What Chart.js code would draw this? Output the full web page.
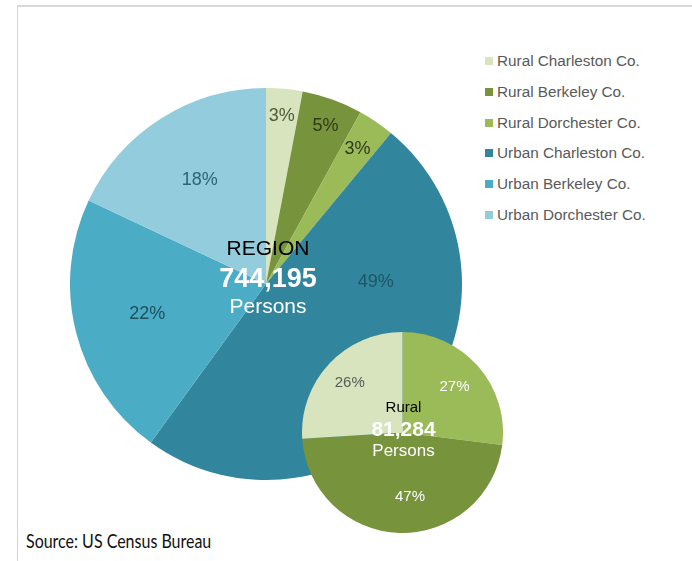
<!DOCTYPE html>
<html>
<head>
<meta charset="utf-8">
<script src="https://cdn.jsdelivr.net/npm/chart.js@4"></script>
<style>
    html, body { margin: 0; padding: 0; background: #fff; }
    body { width: 692px; height: 561px; position: relative; overflow: hidden; font-family: "Liberation Sans", Arial, sans-serif; }
    #frame { position: absolute; left: 17px; top: 5px; right: -5px; bottom: -5px; border-top: 2px solid #d9d9d9; border-left: 1px solid #d4d4d4; }
    #bigWrap { position: absolute; left: 70px; top: 88px; width: 392px; height: 392px; }
    #smallWrap { position: absolute; left: 302px; top: 332px; width: 201px; height: 201px; }
    #legend { position: absolute; left: 485px; top: 46px; }
    .leg-row { height: 30.7px; display: flex; align-items: center; font-size: 15.3px; color: #595959; white-space: nowrap; }
    .leg-box { width: 8px; height: 8px; margin-right: 4px; }
    #source { position: absolute; left: 26px; top: 529px; font-size: 19.5px; color: #111; font-family: "Lato", "DejaVu Sans", sans-serif;
              transform: scaleX(0.82); transform-origin: left top; white-space: nowrap; }
</style>
</head>
<body>
<div id="frame"></div>
<div id="bigWrap"><canvas id="regionPie"></canvas></div>
<div id="smallWrap"><canvas id="ruralPie"></canvas></div>
<div id="legend"></div>
<div id="source">Source: US Census Bureau</div>

<script>
// Region pie (share of persons, %)
const regionLabels = ['Rural Charleston Co.', 'Rural Berkeley Co.', 'Rural Dorchester Co.',
    'Urban Charleston Co.', 'Urban Berkeley Co.', 'Urban Dorchester Co.'];
const regionValues = [3, 5, 3, 49, 22, 18];
const regionColors = ['#d7e4bd', '#77933c', '#9bbb59', '#31859c', '#4bacc6', '#93cddd'];
const regionLabelColors = ['#4f5a3a', '#2f3a1a', '#2f3a1a', '#1d5566', '#1f4f5e', '#2a6478'];

// Rural pie (share of rural persons, %)
const ruralLabels = ['Rural Dorchester Co.', 'Rural Berkeley Co.', 'Rural Charleston Co.'];
const ruralValues = [27, 47, 26];
const ruralColors = ['#9bbb59', '#77933c', '#d7e4bd'];
const ruralLabelColors = ['#ffffff', '#ffffff', '#595959'];

const regionCenter = ['REGION', '744,195', 'Persons'];
const ruralCenter = ['Rural', '81,284', 'Persons'];

// percent labels on each slice
// along = where in the slice's angle span the label sits, radius = fraction of outer radius
const sliceLabels = {
    id: 'sliceLabels',
    afterDatasetsDraw(chart, args, opts) {
        const ctx = chart.ctx;
        const meta = chart.getDatasetMeta(0);
        const data = chart.data.datasets[0].data;
        ctx.save();
        ctx.textAlign = 'center';
        ctx.textBaseline = 'middle';
        ctx.font = opts.size + 'px "Liberation Sans", Arial, sans-serif';
        meta.data.forEach((arc, i) => {
            const t = opts.along ? opts.along[i] : 0.5;
            const ang = arc.startAngle + (arc.endAngle - arc.startAngle) * t;
            const r = arc.outerRadius * opts.radius[i];
            ctx.fillStyle = opts.colors[i];
            ctx.fillText(data[i] + '%', arc.x + Math.cos(ang) * r, arc.y + Math.sin(ang) * r);
        });
        ctx.restore();
    }
};

// three lines of text in the middle
const centerText = {
    id: 'centerText',
    afterDatasetsDraw(chart, args, opts) {
        const ctx = chart.ctx;
        const arc = chart.getDatasetMeta(0).data[0];
        const x = arc.x + opts.dx, y = arc.y;
        ctx.save();
        ctx.textAlign = 'center';
        ctx.textBaseline = 'middle';
        ctx.fillStyle = '#000';
        ctx.font = opts.sizes[0] + 'px "Liberation Sans", Arial, sans-serif';
        ctx.fillText(opts.lines[0], x, y + opts.offsets[0]);
        ctx.fillStyle = '#fff';
        ctx.font = 'bold ' + opts.sizes[1] + 'px "Liberation Sans", Arial, sans-serif';
        ctx.fillText(opts.lines[1], x, y + opts.offsets[1]);
        ctx.font = opts.sizes[2] + 'px "Liberation Sans", Arial, sans-serif';
        ctx.fillText(opts.lines[2], x, y + opts.offsets[2]);
        ctx.restore();
    }
};

const regionChart = new Chart(document.getElementById('regionPie'), {
    type: 'pie',
    data: {
        labels: regionLabels,
        datasets: [{ data: regionValues, backgroundColor: regionColors, borderWidth: 0 }]
    },
    options: {
        responsive: true,
        maintainAspectRatio: false,
        animation: false,
        plugins: {
            legend: { display: false },
            tooltip: { enabled: false },
            sliceLabels: {
                size: 18,
                colors: regionLabelColors,
                along: [0.5, 0.55, 0.5, 0.28, 0.5, 0.5],
                radius: [0.86, 0.86, 0.83, 0.56, 0.625, 0.63]
            },
            centerText: { lines: regionCenter, sizes: [21, 27, 21], offsets: [-35, -4, 23], dx: 2 }
        }
    },
    plugins: [sliceLabels, centerText]
});

const ruralChart = new Chart(document.getElementById('ruralPie'), {
    type: 'pie',
    data: {
        labels: ruralLabels,
        datasets: [{ data: ruralValues, backgroundColor: ruralColors, borderWidth: 0 }]
    },
    options: {
        responsive: true,
        maintainAspectRatio: false,
        animation: false,
        plugins: {
            legend: { display: false },
            tooltip: { enabled: false },
            sliceLabels: {
                size: 15,
                colors: ruralLabelColors,
                along: [0.5, 0.45, 0.5],
                radius: [0.69, 0.64, 0.72]
            },
            centerText: { lines: ruralCenter, sizes: [15, 21, 17], offsets: [-25, -2, 19], dx: 1 }
        }
    },
    plugins: [sliceLabels, centerText]
});

// legend built from the region arrays
const legendEl = document.getElementById('legend');
regionLabels.forEach((lab, i) => {
    const row = document.createElement('div');
    row.className = 'leg-row';
    const box = document.createElement('span');
    box.className = 'leg-box';
    box.style.background = regionColors[i];
    row.appendChild(box);
    row.appendChild(document.createTextNode(lab));
    legendEl.appendChild(row);
});
</script>
</body>
</html>
